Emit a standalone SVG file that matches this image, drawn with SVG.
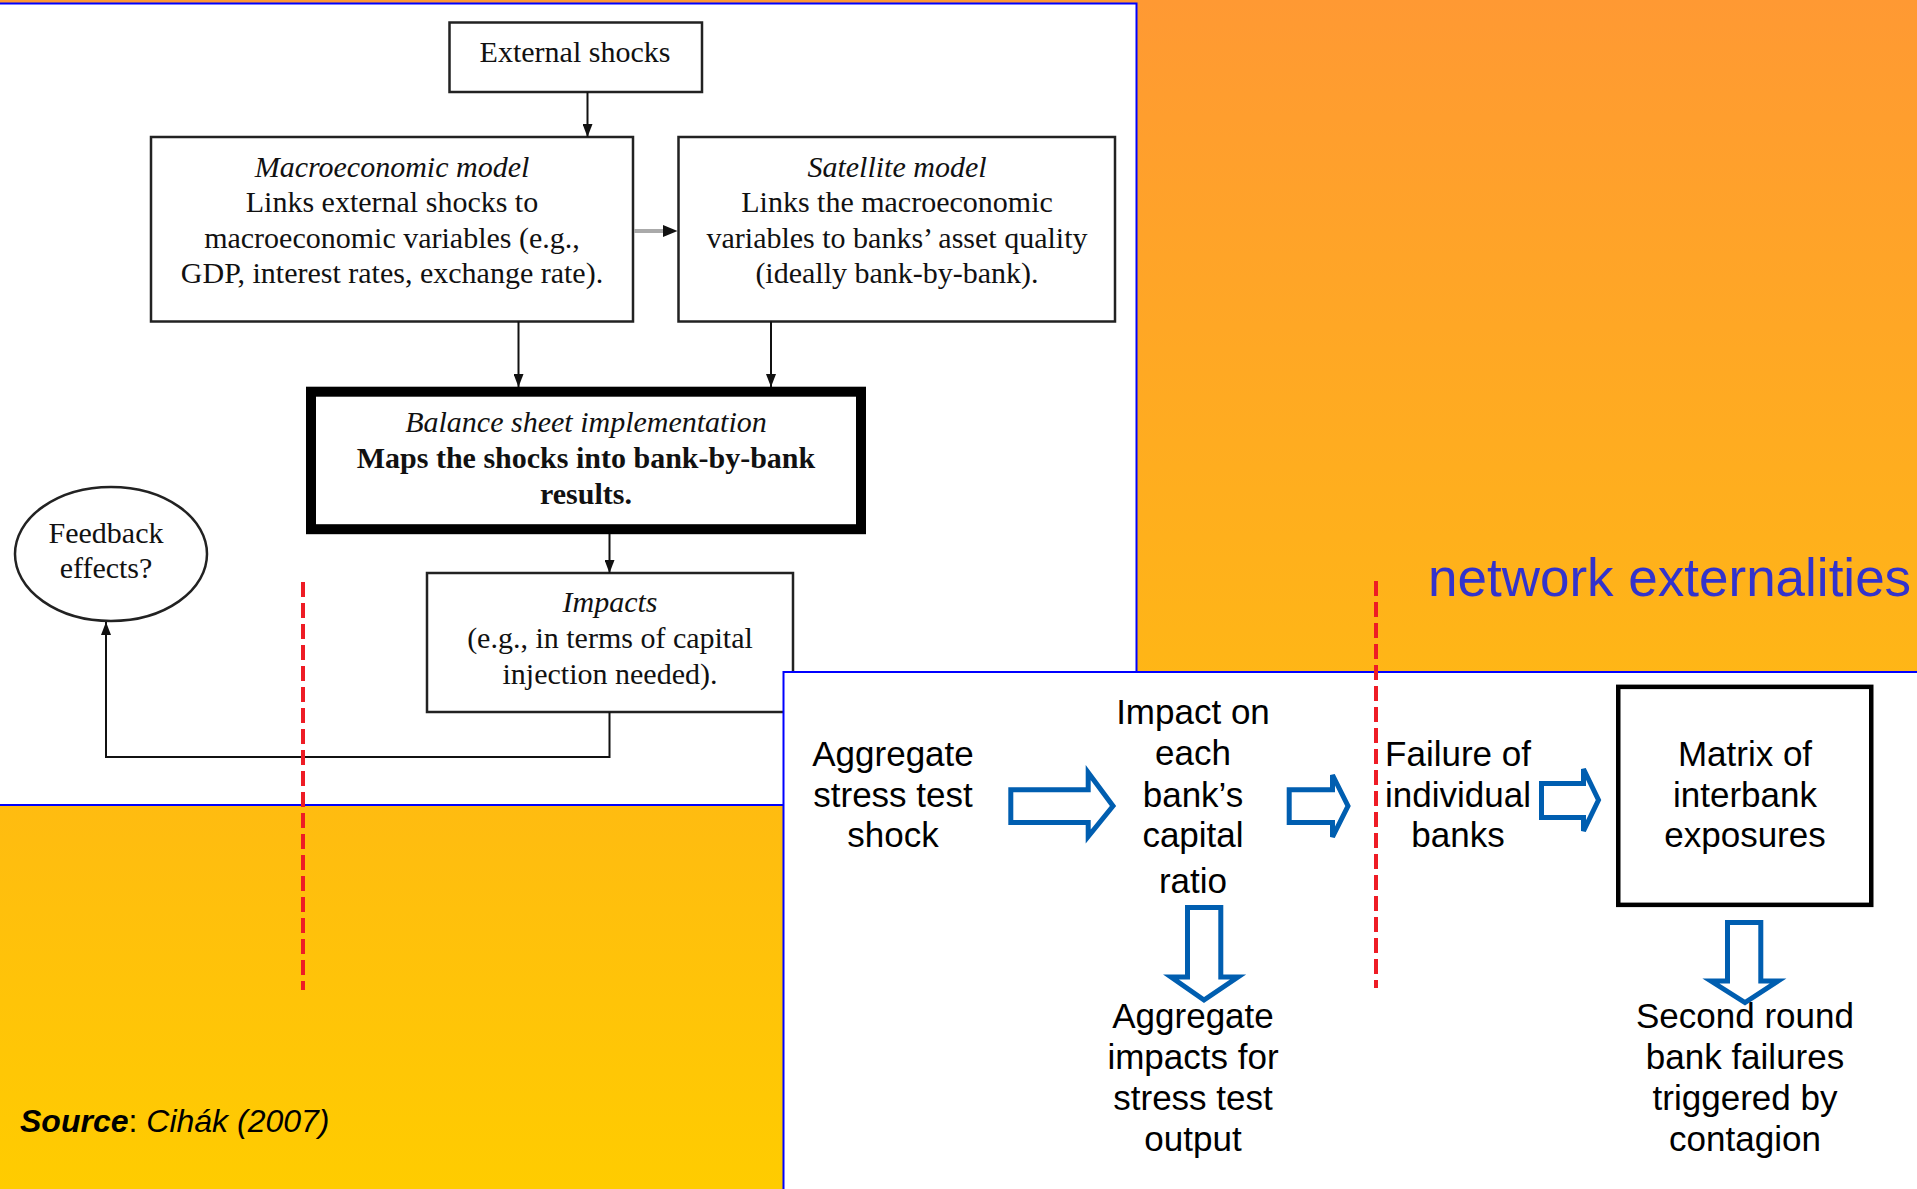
<svg xmlns="http://www.w3.org/2000/svg" width="1917" height="1189" viewBox="0 0 1917 1189">
<defs>
  <linearGradient id="bg" x1="0" y1="0" x2="0" y2="1">
    <stop offset="0" stop-color="#FF9933"/>
    <stop offset="1" stop-color="#FFCC00"/>
  </linearGradient>
  <marker id="ah" viewBox="0 0 13 10" refX="13" refY="5" markerWidth="13" markerHeight="10" markerUnits="userSpaceOnUse" orient="auto">
    <path d="M0,0 L13,5 L0,10 Z" fill="#111"/>
  </marker>
</defs>
<style>
  .panel{fill:#fff;stroke:#0000FF;stroke-width:2}
  .box{fill:#fff;stroke:#222;stroke-width:2.5}
  .serif{font-family:"Liberation Serif","Times New Roman",serif;font-size:30px;fill:#111;text-anchor:middle}
  .it{font-style:italic}
  .b{font-weight:bold}
  .sans{font-family:"Liberation Sans",Arial,sans-serif;font-size:35px;fill:#000;text-anchor:middle}
  .conn{fill:none;stroke:#111;stroke-width:2}
  .blk{fill:#fff;stroke:#005EB0;stroke-width:5;stroke-linejoin:miter}
  .red{stroke:#EE1C25;stroke-width:4;stroke-dasharray:15 6}
</style>
<rect x="0" y="0" width="1917" height="1189" fill="url(#bg)"/>

<!-- upper-left panel -->
<rect id="panel-top" class="panel" x="-5" y="3.5" width="1141.5" height="801.5"/>

<g id="external-shocks">
  <rect class="box" x="449.5" y="22.5" width="252.5" height="69.5"/>
  <text class="serif" x="575" y="62">External shocks</text>
</g>
<g id="macro-model">
  <rect class="box" x="151" y="137" width="482" height="184.5"/>
  <text class="serif it" x="392" y="177">Macroeconomic model</text>
  <text class="serif" x="392" y="212">Links external shocks to</text>
  <text class="serif" x="392" y="248">macroeconomic variables (e.g.,</text>
  <text class="serif" x="392" y="283">GDP, interest rates, exchange rate).</text>
</g>
<g id="satellite-model">
  <rect class="box" x="678.5" y="137" width="436.5" height="184.5"/>
  <text class="serif it" x="897" y="177">Satellite model</text>
  <text class="serif" x="897" y="212">Links the macroeconomic</text>
  <text class="serif" x="897" y="248">variables to banks’ asset quality</text>
  <text class="serif" x="897" y="283">(ideally bank-by-bank).</text>
</g>
<g id="balance-sheet">
  <rect x="311" y="391.7" width="550" height="137.5" fill="#fff" stroke="#000" stroke-width="10"/>
  <text class="serif it" x="586" y="432">Balance sheet implementation</text>
  <text class="serif b" x="586" y="468">Maps the shocks into bank-by-bank</text>
  <text class="serif b" x="586" y="504">results.</text>
</g>
<g id="impacts">
  <rect class="box" x="427" y="573" width="366" height="139"/>
  <text class="serif it" x="610" y="612">Impacts</text>
  <text class="serif" x="610" y="648">(e.g., in terms of capital</text>
  <text class="serif" x="610" y="684">injection needed).</text>
</g>
<g id="feedback">
  <ellipse cx="111" cy="554" rx="96" ry="67" fill="#fff" stroke="#222" stroke-width="2.5"/>
  <text class="serif" x="106" y="543">Feedback</text>
  <text class="serif" x="106" y="578">effects?</text>
</g>

<g id="connectors-top">
  <path class="conn" d="M587.5,92 V137" marker-end="url(#ah)"/>
  <path class="conn" d="M518.5,321.5 V387" marker-end="url(#ah)"/>
  <path class="conn" d="M771,321.5 V387" marker-end="url(#ah)"/>
  <path class="conn" d="M609.5,534 V573" marker-end="url(#ah)"/>
  <path class="conn" d="M609.5,712 V757 H106 V622" marker-end="url(#ah)"/>
  <line x1="634" y1="231" x2="665" y2="231" stroke="#AAAAAA" stroke-width="4"/>
  <polygon points="663,225 677.5,231 663,237" fill="#111"/>
</g>

<!-- lower-right panel -->
<rect id="panel-bottom" class="panel" x="783.5" y="672" width="1140" height="600"/>

<g id="aggregate-shock">
  <text class="sans" x="893" y="766">Aggregate</text>
  <text class="sans" x="893" y="807">stress test</text>
  <text class="sans" x="893" y="847">shock</text>
</g>
<g id="impact-capital">
  <text class="sans" x="1193" y="724">Impact on</text>
  <text class="sans" x="1193" y="765">each</text>
  <text class="sans" x="1193" y="807">bank’s</text>
  <text class="sans" x="1193" y="847">capital</text>
  <text class="sans" x="1193" y="893">ratio</text>
</g>
<g id="failure-banks">
  <text class="sans" x="1458" y="766">Failure of</text>
  <text class="sans" x="1458" y="807">individual</text>
  <text class="sans" x="1458" y="847">banks</text>
</g>
<g id="matrix">
  <rect x="1618.25" y="686.85" width="253" height="218" fill="#fff" stroke="#000" stroke-width="4.5"/>
  <text class="sans" x="1745" y="766">Matrix of</text>
  <text class="sans" x="1745" y="807">interbank</text>
  <text class="sans" x="1745" y="847">exposures</text>
</g>
<g id="aggregate-output">
  <text class="sans" x="1193" y="1028">Aggregate</text>
  <text class="sans" x="1193" y="1069">impacts for</text>
  <text class="sans" x="1193" y="1110">stress test</text>
  <text class="sans" x="1193" y="1151">output</text>
</g>
<g id="second-round">
  <text class="sans" x="1745" y="1028">Second round</text>
  <text class="sans" x="1745" y="1069">bank failures</text>
  <text class="sans" x="1745" y="1110">triggered by</text>
  <text class="sans" x="1745" y="1151">contagion</text>
</g>

<g id="connectors-bottom">
  <path class="blk" d="M1010.8,789.8 H1088.2 V772.5 L1113,806 L1088.2,836.5 V822.5 H1010.8 Z"/>
  <path class="blk" d="M1289.2,789.8 H1332.5 V775 L1348,806 L1332.5,837 V822.5 H1289.2 Z"/>
  <path class="blk" d="M1541.5,783.5 H1583.5 V769 L1598.5,800 L1583.5,831 V817.5 H1541.5 Z"/>
  <path class="blk" d="M1187.5,907.5 H1220.8 V977 H1238 L1204,1000 L1171,977 H1187.5 Z"/>
  <path class="blk" d="M1727.5,922.5 H1760.8 V981 H1778 L1745,1002.5 L1711,981 H1727.5 Z"/>
</g>

<g id="dividers">
  <line class="red" x1="303" y1="582" x2="303" y2="990"/>
  <line class="red" x1="1376" y1="581" x2="1376" y2="988"/>
</g>

<text x="1428" y="596" font-family="'Liberation Sans',Arial,sans-serif" font-size="53" fill="#3333CC">network externalities</text>

<text x="20" y="1132" font-family="'Liberation Sans',Arial,sans-serif" font-size="32" fill="#000"><tspan font-weight="bold" font-style="italic">Source</tspan>: <tspan font-style="italic">Cihák (2007)</tspan></text>
</svg>
